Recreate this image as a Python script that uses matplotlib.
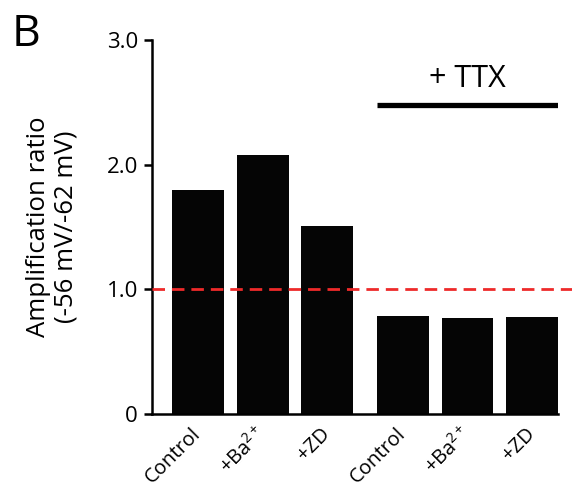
import matplotlib.pyplot as plt
import numpy as np

plt.rcParams['font.family'] = ['Open Sans', 'DejaVu Sans']
plt.rcParams['mathtext.fontset'] = 'custom'
plt.rcParams['mathtext.rm'] = 'Open Sans'
plt.rcParams['mathtext.it'] = 'Open Sans'
plt.rcParams['mathtext.default'] = 'regular'

labels = ['Control', '+Ba$^{2+}$', '+ZD', 'Control', '+Ba$^{2+}$', '+ZD']
ratios = [1.80, 2.08, 1.51, 0.79, 0.77, 0.78]
positions = np.array([0, 1, 2, 3.17, 4.17, 5.17])

fig = plt.figure(figsize=(5.72, 4.90), dpi=100)
ax = fig.add_axes([0.2657, 0.155, 0.7098, 0.763])

ax.bar(positions, ratios, width=0.8, color='#050505', zorder=2)

# reference line at ratio 1, runs past the right spine
ax.axhline(1.0, xmin=0, xmax=1.036, color='#ee2a2a', lw=2.0,
           dashes=(4.5, 2.5), clip_on=False, zorder=3)

# TTX bracket over the second group
x0 = positions[3] - 0.4
x1 = positions[5] + 0.4
ax.plot([x0, x1], [2.48, 2.48], color='black', lw=3.8, solid_capstyle='butt')
ax.text((x0 + x1) / 2, 2.57, '+ TTX', ha='center', va='bottom', fontsize=22)

ax.set_xlim(-0.713, positions[5] + 0.4)
ax.set_ylim(0, 3.0)
ax.set_yticks([0, 1, 2, 3])
ax.set_yticklabels(['0', '1.0', '2.0', '3.0'], fontsize=16)
ax.set_xticks(positions)
ax.set_xticklabels(labels, rotation=45, ha='right', va='center',
                   rotation_mode='anchor', fontsize=14.5)
ax.tick_params(axis='x', length=0, pad=12)
ax.tick_params(axis='y', length=6, width=1.8, pad=4)

for side in ['top', 'right']:
    ax.spines[side].set_visible(False)
for side in ['left', 'bottom']:
    ax.spines[side].set_linewidth(1.8)

ax.set_ylabel('Amplification ratio\n(-56 mV/-62 mV)', fontsize=18.5,
              linespacing=1.15, labelpad=20)

fig.text(0.021, 0.975, 'B', fontsize=32, va='top', ha='left')

fig.savefig('out.png', dpi=100)
